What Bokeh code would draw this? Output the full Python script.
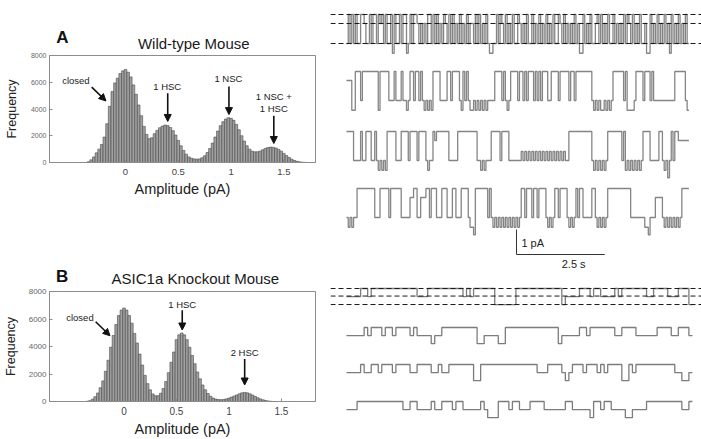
from bokeh.plotting import figure
from bokeh.layouts import row, column
from bokeh.models import Range1d, FixedTicker, Label, Arrow, NormalHead, Span
from bokeh.embed import file_html
from bokeh.resources import INLINE

FONT = "Liberation Sans"

# ---------------- histogram data (amplitude bins, counts) ----------------
bin_width = 0.025
wt_first_bin = -0.35
wt_counts = [
    60, 200, 420, 720, 1000, 1350, 1900, 2900, 4200, 5300,
    5950, 6300, 6650, 6850, 6950, 6750, 6400, 5800, 5100, 4300,
    3500, 2700, 2100, 1780, 1850, 2150, 2400, 2600, 2720, 2800,
    2760, 2620, 2380, 2050, 1650, 1250, 900, 620, 420, 320,
    270, 250, 270, 350, 500, 750, 1050, 1450, 1900, 2350,
    2750, 3050, 3250, 3350, 3300, 3150, 2850, 2450, 2000, 1600,
    1250, 1000, 850, 800, 800, 850, 950, 1050, 1120, 1150,
    1130, 1080, 980, 850, 680, 520, 370, 250, 150, 90,
    50, 25, 10,
]
ko_first_bin = -0.35
ko_counts = [
    20, 60, 170, 350, 620, 1000, 1500, 2200, 3000, 3950,
    4800, 5600, 6250, 6650, 6800, 6650, 6250, 5700, 4950, 4250,
    3450, 2650, 1900, 1300, 850, 550, 420, 420, 600, 950,
    1450, 2100, 2850, 3600, 4500, 4850, 4980, 4850, 4500, 3950,
    3350, 2750, 2150, 1650, 1200, 850, 580, 380, 250, 180,
    140, 130, 150, 190, 250, 320, 400, 480, 560, 630,
    660, 630, 560, 470, 370, 270, 190, 120, 70, 40,
    15,
]

amp_ticks = [0, 0.5, 1, 1.5]
amp_tick_labels = ["0", "0.5", "1", "1.5"]
freq_ticks = [0, 2000, 4000, 6000, 8000]

wt_title = "Wild-type Mouse"
ko_title = "ASIC1a Knockout Mouse"
panel_letters = ["A", "B"]

# annotations: (text, amplitude, count)
wt_notes = [("closed", -0.47, 6100), ("1 HSC", 0.395, 5690), ("1 NSC", 0.975, 6250),
            ("1 NSC +", 1.405, 4930), ("1 HSC", 1.405, 4040)]
wt_arrows = [(-0.32, 5640, -0.185, 4600), (0.40, 5180, 0.40, 3070),
             (0.98, 5690, 0.98, 3580), (1.405, 3500, 1.405, 1420)]
ko_notes = [("closed", -0.42, 6110), ("1 HSC", 0.555, 7070), ("2 HSC", 1.15, 3600)]
ko_arrows = [(-0.27, 5800, -0.133, 4780), (0.555, 6640, 0.555, 5200), (1.15, 3100, 1.15, 1200)]

# ---------------- single-channel sweeps (one code per sample) ----------------
wt_dt = 0.05  # s per code
ko_dt = 0.1
wt_levels = {"0": 0.0, "1": 0.36, "2": 0.8, "3": 1.16, "4": 1.55, "5": 1.85}
ko_levels = {"0": 0.0, "1": 0.45, "2": 0.9}
wt_sweeps = [
    "30303033001330300301" "03033040330300430300" "13131300303031301303"
    "03130313031130303130" "34433030130313033013" "13033031303130313033"
    "01303131303144031303" "31030313033031313030" "13031303314403130313"
    "03140313031303",
    "11144" "000300" "0000000400000" "333033303343" "0030030" "343434" "00003"
    "3330030000" "3403034" "4343434343" "3330000303430000300" "303000303030003"
    "30000300000300" "30000000003" "434344343430" "0000030" "4444300003" "00030"
    "333333333333" "00000034",
    "00003" "333033" "000330" "343434" "000003330" "00030000300" "0034330"
    "10000000" "333330" "00000000003" "34343330" "000030000" "3333333"
    "2323232323232323232323232" "330" "000000000000343434343" "0000000030"
    "4343434343" "00003333300" "343530300" "111111",
    "34343" "30000" "0000003" "33" "000003000000" "33333" "110033111003"
    "000333000" "333003330" "0003" "4450" "00000030" "34343434343434343"
    "00300030" "030000343430030000343430300" "33333003434343" "00000000000003"
    "333333" "3445333" "1111" "34343434343" "0000",
]
ko_sweeps = [
    "1111" "0010" "000000000000" "111" "0000000000" "10100" "0000" "222222"
    "0000000000000" "2" "1111" "000100" "1111" "010" "000000" "11" "0000" "111" "000" "2",
    "11111" "01" "0001001000010" "111" "1211" "0000000000" "22" "1111" "22"
    "000000000000000" "2" "11111" "0010000000" "11" "0000" "111111" "0000" "11" "000" "1",
    "1111" "0" "11" "001000" "1" "0000" "11" "0000" "11011" "0000000" "22"
    "0000000000000000" "111" "0000" "121" "00010" "001" "010000" "22" "01000" "00000000" "11" "221",
    "111" "0000000000000" "11" "00" "1111" "0" "11" "000100" "1111" "101" "22" "2" "0"
    "00100" "111" "0000" "111111" "00" "11111" "2" "00100" "1111" "22" "1111" "0000" "000000" "11" "0",
]
wt_ref_levels = [0.0, 0.36, 1.16]
ko_ref_levels = [0.0, 0.42, 0.89]
scale_amp = 1.0      # pA
scale_time = 2.5     # s
scale_amp_label = "1 pA"
scale_time_label = "2.5 s"

# ---------------- layout constants (pixels) ----------------
W_LEFT, W_RIGHT = 330, 371
HEAD_A, HIST_A = 52, 163
HEAD_B, HIST_B = 73, 151
TR_A_H, TR_B_H = 275, 164


def header_fig(h, letter, letter_pos, title, title_pos):
    p = figure(width=W_LEFT, height=h, x_range=Range1d(0, W_LEFT), y_range=Range1d(h, 0),
               output_backend="svg", toolbar_location=None,
               x_axis_location=None, y_axis_location=None, min_border=0)
    p.grid.visible = False
    p.outline_line_color = None
    p.background_fill_color = "white"
    p.border_fill_color = "white"
    p.add_layout(Label(x=letter_pos[0], y=letter_pos[1], text=letter, text_font=FONT,
                       text_font_size="17px", text_font_style="bold", text_align="left",
                       text_baseline="alphabetic", text_color="#111111"))
    p.add_layout(Label(x=title_pos[0], y=title_pos[1], text=title, text_font=FONT,
                       text_font_size="15px", text_align="center",
                       text_baseline="alphabetic", text_color="#1a1a1a"))
    return p


def hist_fig(counts, first, xr, h, borders, notes, arrows, ylab_size, ytick_size,
             xtick_size, xlab_size, tick_standoff, xlab_standoff, ylab_standoff, ytick_standoff):
    centers = [first + i * bin_width for i in range(len(counts))]
    p = figure(width=W_LEFT, height=h, x_range=Range1d(*xr), y_range=Range1d(0, 8000),
               output_backend="svg", toolbar_location=None,
               min_border_left=borders[0], min_border_right=borders[1],
               min_border_top=borders[2], min_border_bottom=borders[3])
    p.grid.visible = False
    p.outline_line_color = "#8c8c8c"
    p.background_fill_color = "white"
    p.border_fill_color = "white"
    p.vbar(x=centers, top=counts, width=bin_width, fill_color="#a0a0a0",
           line_color="#4a4a4a", line_width=0.6)

    xa = p.xaxis[0]
    xa.ticker = FixedTicker(ticks=amp_ticks)
    xa.major_label_overrides = dict(zip(amp_ticks, amp_tick_labels))
    xa.axis_label = "Amplitude (pA)"
    ya = p.yaxis[0]
    ya.ticker = FixedTicker(ticks=freq_ticks)
    ya.axis_label = "Frequency"
    for ax in (xa, ya):
        ax.axis_line_color = "#8c8c8c"
        ax.major_tick_line_color = "#8c8c8c"
        ax.major_tick_in = 3
        ax.major_tick_out = 0
        ax.minor_tick_line_color = None
        ax.axis_label_text_font = FONT
        ax.axis_label_text_font_style = "normal"
        ax.axis_label_text_color = "#222222"
        ax.major_label_text_font = FONT
    xa.major_label_text_font_size = xtick_size
    xa.major_label_text_color = "#444444"
    xa.major_label_standoff = tick_standoff
    xa.axis_label_text_font_size = xlab_size
    xa.axis_label_standoff = xlab_standoff
    ya.major_label_text_font_size = ytick_size
    ya.major_label_text_color = "#666666"
    ya.major_label_standoff = ytick_standoff
    ya.axis_label_text_font_size = ylab_size
    ya.axis_label_standoff = ylab_standoff

    for txt, x, y in notes:
        p.add_layout(Label(x=x, y=y, text=txt, text_font=FONT, text_font_size="9.5px",
                           text_align="center", text_baseline="middle", text_color="#1a1a1a"))
    for x0, y0, x1, y1 in arrows:
        p.add_layout(Arrow(end=NormalHead(size=7, fill_color="#111111", line_color="#111111"),
                           x_start=x0, y_start=y0, x_end=x1, y_end=y1,
                           line_color="#111111", line_width=1.6))
    return p


headA = header_fig(HEAD_A, panel_letters[0], (8.3, 36.7), wt_title, (179, 43.3))
hA = hist_fig(wt_counts, wt_first_bin, (-0.72, 1.8), HIST_A, (43, 15, 3, 53),
              wt_notes, wt_arrows, "12.5px", "7px", "9.5px", "14.5px", 6, 3, 9, 3)
headB = header_fig(HEAD_B, panel_letters[1], (8.0, 61.0), ko_title, (181, 63.3))
hB = hist_fig(ko_counts, ko_first_bin, (-0.71, 1.825), HIST_B, (45, 13, 3, 36),
              ko_notes, ko_arrows, "12.5px", "8px", "10px", "14.5px", 5, 3, 8, 3)


def trace_fig(h, y_bottom):
    p = figure(width=W_RIGHT, height=h, x_range=Range1d(-0.453, 10.057),
               y_range=Range1d(y_bottom, 0), output_backend="svg", toolbar_location=None,
               x_axis_location=None, y_axis_location=None, min_border=0)
    p.grid.visible = False
    p.outline_line_color = None
    p.background_fill_color = "white"
    p.border_fill_color = "white"
    return p


def add_sweeps(p, sweeps, levels, tops, dt, color, width):
    for codes, top in zip(sweeps, tops):
        t = [i * dt for i in range(len(codes) + 1)]
        y = [top - levels[c] for c in codes]
        y.append(y[-1])
        p.step(x=t, y=y, mode="after", line_color=color, line_width=width)


def add_refs(p, refs, top):
    for lv in refs:
        p.add_layout(Span(location=top - lv, dimension="width", line_color="#1a1a1a",
                          line_width=1, line_dash="5 3"))


# trace A: 25 px per pA, 35.3 px per s
tA = trace_fig(TR_A_H, -TR_A_H / 25.0)
wt_tops = [-0.56, -2.84, -5.24, -7.52]
add_refs(tA, wt_ref_levels, wt_tops[0])
add_sweeps(tA, wt_sweeps, wt_levels, wt_tops, wt_dt, "#858585", 1.3)

sb_x, sb_y = 4.816, -10.16
tA.line(x=[sb_x, sb_x, sb_x + scale_time], y=[sb_y + scale_amp, sb_y, sb_y],
        line_color="#333333", line_width=1)
tA.add_layout(Label(x=sb_x + 0.14, y=sb_y + 0.48, text=scale_amp_label, text_font=FONT,
                    text_font_size="11px", text_align="left", text_baseline="middle",
                    text_color="#222222"))
tA.add_layout(Label(x=sb_x + 1.62, y=sb_y - 0.37, text=scale_time_label, text_font=FONT,
                    text_font_size="11px", text_align="center", text_baseline="middle",
                    text_color="#222222"))

# trace B: 18 px per pA
tB = trace_fig(TR_B_H, -TR_B_H / 18.0)
ko_tops = [-0.722, -2.889, -4.944, -7.0]
add_refs(tB, ko_ref_levels, ko_tops[0])
add_sweeps(tB, ko_sweeps, ko_levels, ko_tops, ko_dt, "#7c7c7c", 1.3)

layout = row(column(headA, hA, headB, hB), column(tA, tB))
open("out.html", "w").write(file_html(layout, INLINE))
